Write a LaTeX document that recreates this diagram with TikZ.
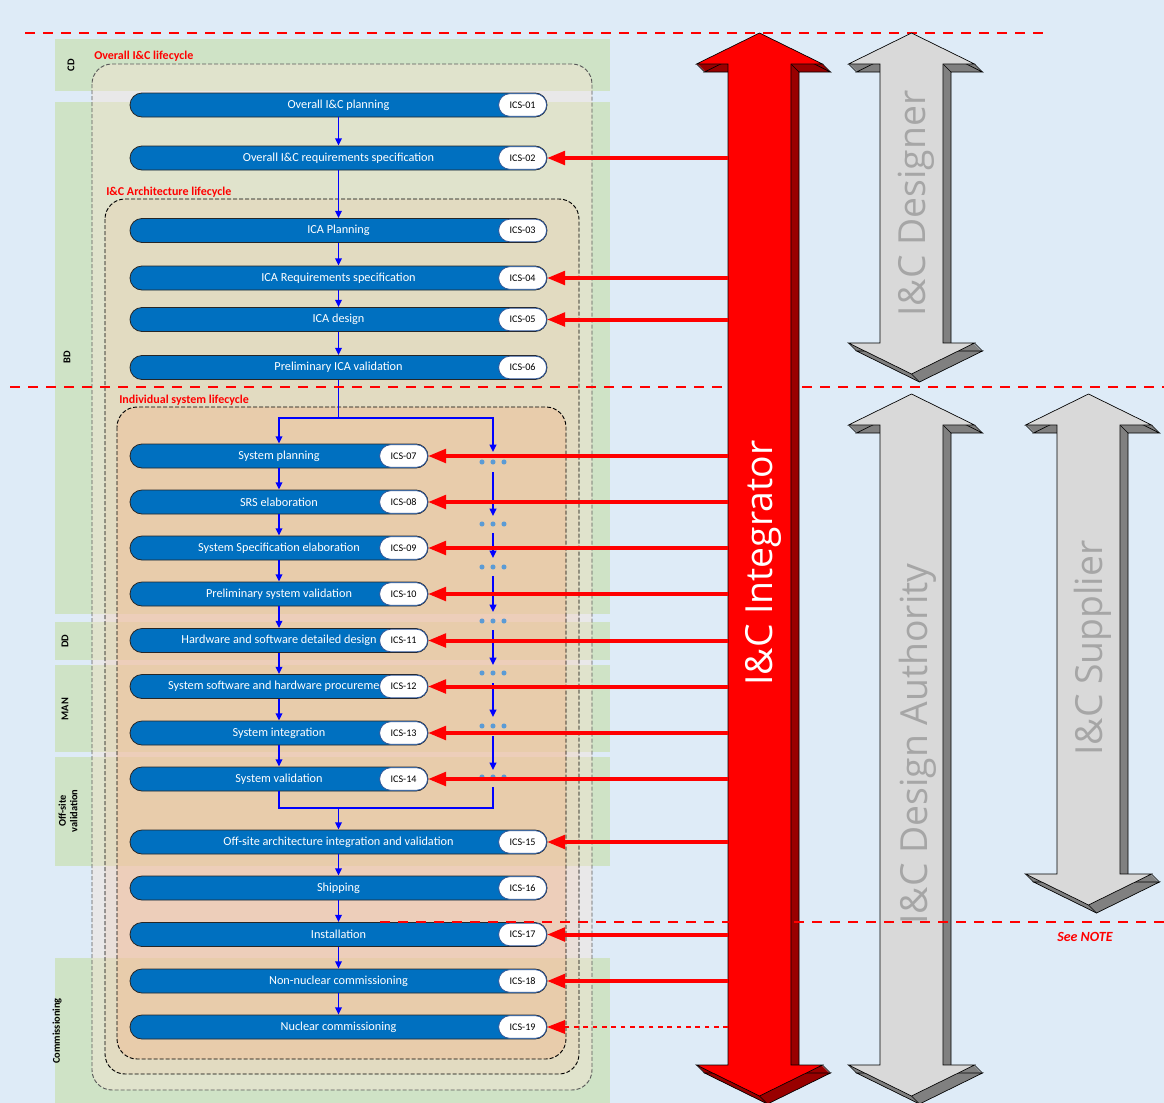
\documentclass[tikz,border=0pt]{standalone}
\usepackage{fontspec}
\setmainfont{Carlito}
\newfontfamily\bigfont{Open Sans}
\usetikzlibrary{arrows.meta}

\definecolor{bgblue}{HTML}{DEEBF7}
\definecolor{bandgreen}{HTML}{CFE3C6}
\definecolor{pillblue}{HTML}{0070C0}
\definecolor{badgeedge}{HTML}{2F5597}
\definecolor{dotblue}{HTML}{5B9BD5}
\definecolor{darkred}{HTML}{990000}
\definecolor{lgrey}{HTML}{D9D9D9}
\definecolor{mgrey}{HTML}{808080}
\definecolor{tgrey}{HTML}{A6A6A6}
\definecolor{boxA}{HTML}{FBE5D6}
\definecolor{boxB}{HTML}{F4B183}

\tikzset{
  pillW/.style={draw=black!85, line width=0.6pt, fill=pillblue, rounded corners=9pt,
    minimum width=312.75pt, minimum height=18pt, inner sep=0pt, text=white,
    font=\fontsize{9.2}{11}\selectfont},
  pillN/.style={pillW, minimum width=223.5pt},
  badge/.style={draw=badgeedge, line width=0.6pt, fill=white, rounded corners=8.5pt,
    minimum width=36pt, minimum height=17pt, inner sep=0pt, text=black,
    font=\fontsize{7.6}{9}\selectfont},
  lifebox/.style={line width=0.7pt, dash pattern=on 3pt off 1.5pt, rounded corners=15pt},
  lifelabel/.style={anchor=west, inner sep=0pt, text=red, font=\bfseries\fontsize{9}{10}\selectfont},
  phaselabel/.style={rotate=90, inner sep=0pt, align=center, font=\bfseries\fontsize{7.8}{8.6}\selectfont},
  bline/.style={draw=blue, line width=1.1pt},
  barrow/.style={bline, -{Triangle[length=5.5pt,width=5pt]}},
  rarrow/.style={draw=red, line width=3pt, -{Triangle[length=13.5pt,width=10pt]}},
  rdarrow/.style={draw=red, line width=1.6pt, dash pattern=on 3.5pt off 3.5pt, -{Triangle[length=13.5pt,width=10pt]}},
  reddash/.style={draw=red, line width=1pt, dash pattern=on 7.5pt off 6pt},
  arrowedge/.style={draw=black, line width=0.5pt, line join=miter},
  biglabel/.style={rotate=90, anchor=base, inner sep=0pt, font=\bigfont\fontsize{28}{30}\selectfont},
  dot/.style={fill=dotblue}
}

\newcommand\threedarrow[5]{%
  \foreach \s in {0.5,1,...,8}{%
    \fill[#5,shift={(\s,\s)}] (#1,#2) -- ({#1+63},{#2+31}) -- ({#1+31.5},{#2+31}) -- ({#1+31.5},{#3-31}) -- ({#1+63},{#3-31}) -- (#1,#3) -- ({#1-63},{#3-31}) -- ({#1-31.5},{#3-31}) -- ({#1-31.5},{#2+31}) -- ({#1-63},{#2+31}) -- cycle;}
  \draw[arrowedge,shift={(8,8)}] (#1,#2) -- ({#1+63},{#2+31}) -- ({#1+31.5},{#2+31}) -- ({#1+31.5},{#3-31}) -- ({#1+63},{#3-31}) -- (#1,#3) -- ({#1-63},{#3-31}) -- ({#1-31.5},{#3-31}) -- ({#1-31.5},{#2+31}) -- ({#1-63},{#2+31}) -- cycle;
  \draw[arrowedge] ({#1+31.5},{#2+31}) -- ++(8,8) ({#1+63},{#2+31}) -- ++(8,8) ({#1-63},{#2+31}) -- ++(8,8) ({#1+63},{#3-31}) -- ++(8,8) (#1,#3) -- ++(8,8) ({#1-63},{#3-31}) -- ++(8,8);
  \filldraw[arrowedge,fill=#4] (#1,#2) -- ({#1+63},{#2+31}) -- ({#1+31.5},{#2+31}) -- ({#1+31.5},{#3-31}) -- ({#1+63},{#3-31}) -- (#1,#3) -- ({#1-63},{#3-31}) -- ({#1-31.5},{#3-31}) -- ({#1-31.5},{#2+31}) -- ({#1-63},{#2+31}) -- cycle;
}

\begin{document}
\begin{tikzpicture}[x=0.75pt,y=-0.75pt]
\useasboundingbox (0,0) rectangle (1164,1103);
\fill[bgblue] (0,0) rectangle (1164,1103);

% phase bands
\fill[bandgreen] (55,39) rectangle (610,91);
\fill[bandgreen] (55,102) rectangle (610,614);
\fill[bandgreen] (55,622) rectangle (610,660);
\fill[bandgreen] (55,665) rectangle (610,752);
\fill[bandgreen] (55,757) rectangle (610,866);
\fill[bandgreen] (55,958) rectangle (610,1103);

\node[phaselabel] (lcd) at (71,65) {CD};
\node[phaselabel] (lbd) at (67,357) {BD};
\node[phaselabel] (ldd) at (65,641) {DD};
\node[phaselabel] (lman) at (65,709) {MAN};
\node[phaselabel] (loff) at (68,811) {Off-site\\validation};
\node[phaselabel] (lcom) at (57,1031) {Commissioning};

% lifecycle boxes
\filldraw[lifebox, fill=boxA, fill opacity=0.4, draw=black!65] (92,64) rectangle (592,1090);
\filldraw[lifebox, fill=boxB, fill opacity=0.15, draw=black] (105,199) rectangle (579,1074);
\filldraw[lifebox, fill=boxB, fill opacity=0.35, draw=black] (117,407) rectangle (566,1059);

\node[lifelabel] (t1) at (94,56) {Overall I\&C lifecycle};
\node[lifelabel] (t2) at (106,192) {I\&C Architecture lifecycle};
\node[lifelabel] (t3) at (119,400) {Individual system lifecycle};

% process pills
\node[pillW] (p01) at (338.5,105) {Overall I\&C planning};
\node[pillW] (p02) at (338.5,158) {Overall I\&C requirements specification};
\node[pillW] (p03) at (338.5,230.5) {ICA Planning};
\node[pillW] (p04) at (338.5,278) {ICA Requirements specification};
\node[pillW] (p05) at (338.5,319.5) {ICA design};
\node[pillW] (p06) at (338.5,367.5) {Preliminary ICA validation};
\node[pillN] (p07) at (279,456) {System planning};
\node[pillN] (p08) at (279,502) {SRS elaboration};
\node[pillN] (p09) at (279,548) {System Specification elaboration};
\node[pillN] (p10) at (279,594) {Preliminary system validation};
\node[pillN] (p11) at (279,640.5) {Hardware and software detailed design};
\node[pillN] (p12) at (279,686.5) {System software and hardware procurement};
\node[pillN] (p13) at (279,733) {System integration};
\node[pillN] (p14) at (279,779) {System validation};
\node[pillW] (p15) at (338.5,842) {Off-site architecture integration and validation};
\node[pillW] (p16) at (338.5,888) {Shipping};
\node[pillW] (p17) at (338.5,934.5) {Installation};
\node[pillW] (p18) at (338.5,981) {Non-nuclear commissioning};
\node[pillW] (p19) at (338.5,1027) {Nuclear commissioning};

\foreach \i in {01,02,03,04,05,06,07,08,09,10,11,12,13,14,15,16,17,18,19}{
  \node[badge, anchor=east] (b\i) at ([xshift=-0.3pt]p\i.east) {ICS-\i};
}

% blue flow arrows
\draw[barrow] (p01.south) -- (p02.north);
\draw[barrow] (p02.south) -- (p03.north);
\draw[barrow] (p03.south) -- (p04.north);
\draw[barrow] (p04.south) -- (p05.north);
\draw[barrow] (p05.south) -- (p06.north);
\coordinate (sp) at (338.5,418);
\coordinate (r0) at (493,418);
\coordinate (r1) at (493,452);
\draw[barrow] (p06.south) -- (sp) -| (p07.north);
\draw[barrow] (sp) -- (r0) -- (r1);
\draw[barrow] (p07.south) -- (p08.north);
\draw[barrow] (p08.south) -- (p09.north);
\draw[barrow] (p09.south) -- (p10.north);
\draw[barrow] (p10.south) -- (p11.north);
\draw[barrow] (p11.south) -- (p12.north);
\draw[barrow] (p12.south) -- (p13.north);
\draw[barrow] (p13.south) -- (p14.north);
\foreach \a/\b in {472/516,533/558,576/612,630/665,683/717,736/770}{
  \coordinate (ca\a) at (493,\a);
  \coordinate (cb\a) at (493,\b);
  \draw[barrow] (ca\a) -- (cb\a);
}
\foreach \y in {462,524,567,621,673,726,777}{
  \foreach \x in {482,493,504} \fill[dot] (\x,\y) circle[radius=1.9pt];
}
\coordinate (m0) at (493,787);
\coordinate (m1) at (493,808);
\draw[bline] (p14.south) |- (m1) -- (m0);
\draw[barrow] (p15.north |- m1) -- (p15.north);
\draw[barrow] (p15.south) -- (p16.north);
\draw[barrow] (p16.south) -- (p17.north);
\draw[barrow] (p17.south) -- (p18.north);
\draw[barrow] (p18.south) -- (p19.north);

% dashed separators (behind big arrows)
\coordinate (dl1) at (25,33);
\coordinate (dr1) at (1048,33);
\draw[reddash] (dl1) -- (dr1);
\coordinate (dl2) at (10,387);
\coordinate (dr2) at (1164,387);
\draw[reddash] (dl2) -- (dr2);

% big 3D arrows
\threedarrow{759.5}{33}{1096}{red}{darkred}
\threedarrow{911.5}{33}{374}{lgrey}{mgrey}
\threedarrow{911.5}{394}{1096}{lgrey}{mgrey}
\threedarrow{1088.5}{394}{905}{lgrey}{mgrey}

\node[biglabel, text=white] (integ) at (772,563) {I\&C Integrator};
\node[biglabel, text=tgrey] (desig) at (925,203.5) {I\&C Designer};
\begin{scope}
  \clip (840,390) rectangle (1000,922.5);
  \node[biglabel, text=tgrey] (autho) at (927,744) {I\&C Design Authority};
\end{scope}
\node[biglabel, text=tgrey] (suppl) at (1102,648) {I\&C Supplier};

% red responsibility arrows
\coordinate (RI) at (728,0);
\foreach \i in {02,04,05,07,08,09,10,11,12,13,14,15,17,18}{
  \draw[rarrow] (b\i.east -| RI) -- (b\i.east);
}
\draw[rdarrow] (b19.east -| RI) -- (b19.east);

% lower dashed separator and note
\coordinate (dl3) at (380,922);
\coordinate (dr3) at (1164,922);
\draw[reddash] (dl3) -- (dr3);
\node[text=red, font=\bfseries\itshape\fontsize{10.5}{12}\selectfont] (note) at (1085,937) {See NOTE};
\end{tikzpicture}
\end{document}
